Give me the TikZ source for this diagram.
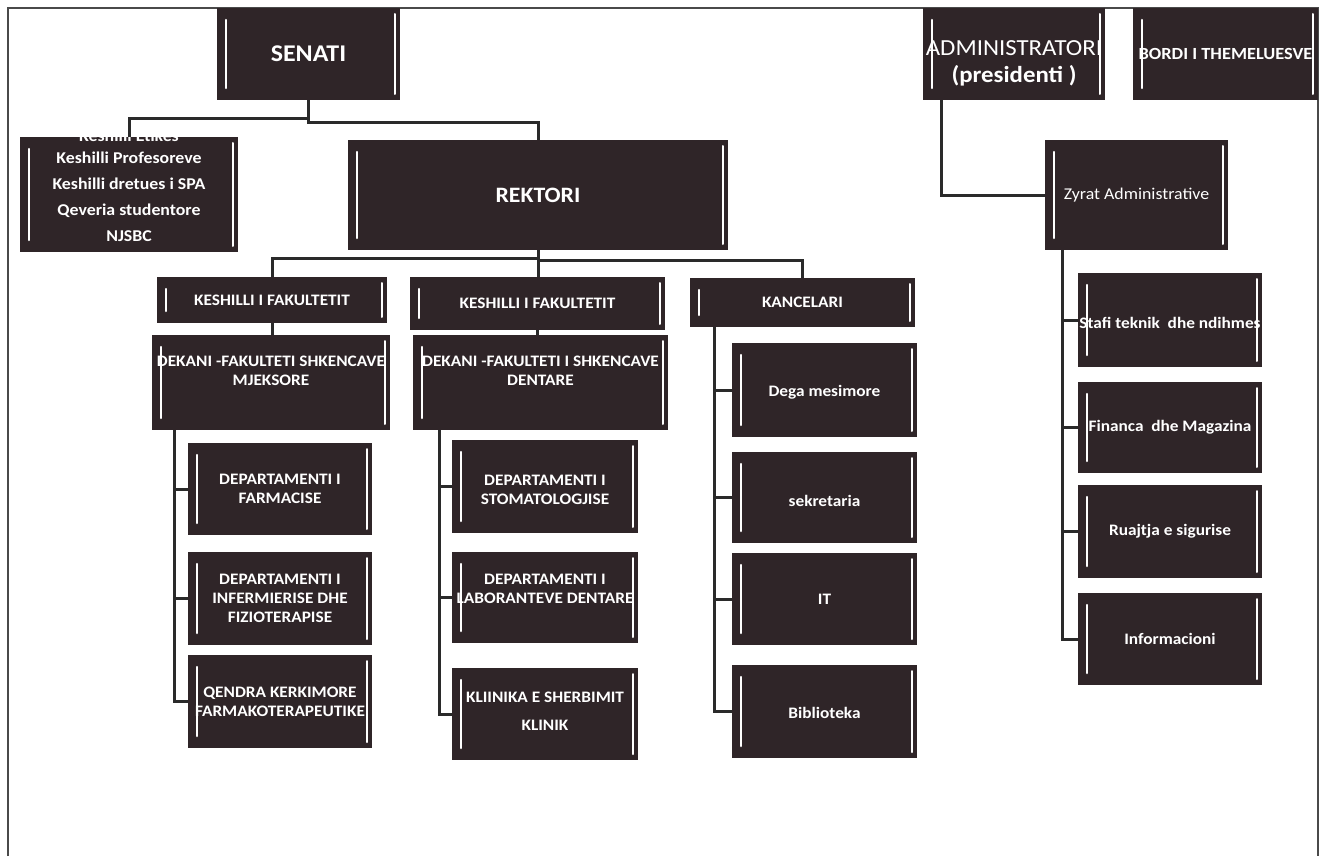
\documentclass[tikz,border=0pt]{standalone}
\usepackage{fontspec}
\setmainfont[FakeStretch=1.08]{Carlito}
\usetikzlibrary{calc}
\definecolor{boxfill}{HTML}{2F2528}
\definecolor{linec}{HTML}{2A2A2A}
\definecolor{framec}{HTML}{4A4A4A}
\tikzset{
 orgbox/.style={fill=boxfill, draw=none, inner sep=0pt, path picture={
   \draw[white, line width=2.5pt, line cap=round] ([xshift=9pt,yshift=-12pt]path picture bounding box.north west) -- ([xshift=9pt,yshift=12pt]path picture bounding box.south west);
   \draw[white, line width=2pt, line cap=round] ([xshift=-5pt,yshift=-6pt]path picture bounding box.north east) -- ([xshift=-5pt,yshift=6pt]path picture bounding box.south east);
 }},
 boxtext/.style={text=white, align=center, inner sep=0pt, font=\fontsize{16}{19}\selectfont\bfseries},
 conn/.style={draw=linec, line width=3pt},
 framel/.style={draw=framec, line width=2pt},
}
\newcommand{\orgbox}[8]{%
 \node[orgbox, minimum width={(#4-#2)*1pt}, minimum height={(#5-#3)*1pt}] (#1) at ({(#2+#4)/2},{(#3+#5)/2}) {};
 \node[boxtext, #7] (#1-t) at ([yshift=#6pt]#1.center) {#8};
}
\begin{document}
\begin{tikzpicture}[x=1pt,y=-1pt]
\useasboundingbox[fill=white] (0,0) rectangle (1324,856);
\draw[framel] (8,856) -- (8,8) -- (1318,8) -- (1318,856);

\orgbox{senati}{217}{8}{400}{100}{0}{font=\fontsize{24}{28}\selectfont\bfseries}{SENATI}
\orgbox{keshillat}{20}{137}{238}{252}{8.5}{font=\fontsize{16.5}{26}\selectfont\bfseries}{Keshilli Etikes\\[-4pt]Keshilli Profesoreve\\Keshilli dretues i SPA\\Qeveria studentore\\NJSBC}
\orgbox{rektori}{348}{140}{728}{250}{0}{font=\fontsize{22}{26}\selectfont\bfseries}{REKTORI}
\orgbox{admin}{923}{8}{1105}{100}{-9}{font=\fontsize{23}{27}\selectfont}{ADMINISTRATORI\\\textbf{(presidenti )}}
\orgbox{bordi}{1133}{8}{1318}{100}{0}{font=\fontsize{17}{20}\selectfont\bfseries}{BORDI I THEMELUESVE}
\orgbox{zyrat}{1045}{140}{1228}{250}{0}{font=\fontsize{16.5}{19}\selectfont}{Zyrat Administrative}
\orgbox{kf1}{157}{277}{387}{323}{0}{}{KESHILLI I FAKULTETIT}
\orgbox{kf2}{410}{277}{665}{330}{0}{}{KESHILLI I FAKULTETIT}
\orgbox{kanc}{690}{278}{915}{327}{0}{}{KANCELARI}
\orgbox{dek1}{152}{335}{390}{430}{12}{}{DEKANI -FAKULTETI SHKENCAVE\\MJEKSORE}
\orgbox{dek2}{413}{335}{668}{430}{12}{}{DEKANI -FAKULTETI I SHKENCAVE\\DENTARE}
\orgbox{farm}{188}{443}{372}{535}{0}{}{DEPARTAMENTI I\\FARMACISE}
\orgbox{inf}{188}{552}{372}{645}{0}{}{DEPARTAMENTI I\\INFERMIERISE DHE\\FIZIOTERAPISE}
\orgbox{qendra}{188}{655}{372}{748}{0}{}{QENDRA KERKIMORE\\FARMAKOTERAPEUTIKE}
\orgbox{stom}{452}{440}{638}{533}{-3}{}{DEPARTAMENTI I\\STOMATOLOGJISE}
\orgbox{lab}{452}{552}{638}{643}{9}{}{DEPARTAMENTI I\\LABORANTEVE DENTARE}
\orgbox{klin}{452}{668}{638}{760}{3}{font=\fontsize{16}{28}\selectfont\bfseries}{KLIINIKA E SHERBIMIT\\KLINIK}
\orgbox{dega}{732}{343}{917}{437}{-2}{}{Dega mesimore}
\orgbox{sek}{732}{452}{917}{543}{-3}{}{sekretaria}
\orgbox{it}{732}{553}{917}{645}{0}{}{IT}
\orgbox{bib}{732}{665}{917}{758}{-1}{}{Biblioteka}
\orgbox{stafi}{1078}{273}{1262}{367}{-3}{}{Stafi teknik\ \ dhe ndihmes}
\orgbox{fin}{1078}{382}{1262}{473}{0}{}{Financa\ \ dhe Magazina}
\orgbox{ruaj}{1078}{485}{1262}{578}{0}{}{Ruajtja e sigurise}
\orgbox{info}{1078}{593}{1262}{685}{0}{}{Informacioni}

\draw[conn] (senati.south) -- ++(0,18) -| (keshillat.north);
\draw[conn] (senati.south) -- ++(0,22) -| (rektori.north);
\draw[conn] (rektori.south) -- ++(0,8) -| (kf1.north);
\draw[conn] (rektori.south) -- ++(0,10) -| (kanc.north);
\draw[conn] (rektori.south) -- (rektori.south |- kf2.north);
\draw[conn] (kf1.south) -- (kf1.south |- dek1.north);
\draw[conn] (kf2.south) -- (kf2.south |- dek2.north);
\draw[conn] ([xshift=23pt]dek1.south west) |- (farm.west);
\draw[conn] ([xshift=23pt]dek1.south west) |- (inf.west);
\draw[conn] ([xshift=23pt]dek1.south west) |- (qendra.west);
\draw[conn] ([xshift=27pt]dek2.south west) |- (stom.west);
\draw[conn] ([xshift=27pt]dek2.south west) |- (lab.west);
\draw[conn] ([xshift=27pt]dek2.south west) |- (klin.west);
\draw[conn] ([xshift=25pt]kanc.south west) |- (dega.west);
\draw[conn] ([xshift=25pt]kanc.south west) |- (sek.west);
\draw[conn] ([xshift=25pt]kanc.south west) |- (it.west);
\draw[conn] ([xshift=25pt]kanc.south west) |- (bib.west);
\draw[conn] ([xshift=19pt]admin.south west) |- (zyrat.west);
\draw[conn] ([xshift=18pt]zyrat.south west) |- (stafi.west);
\draw[conn] ([xshift=18pt]zyrat.south west) |- (fin.west);
\draw[conn] ([xshift=18pt]zyrat.south west) |- (ruaj.west);
\draw[conn] ([xshift=18pt]zyrat.south west) |- (info.west);
\end{tikzpicture}
\end{document}
